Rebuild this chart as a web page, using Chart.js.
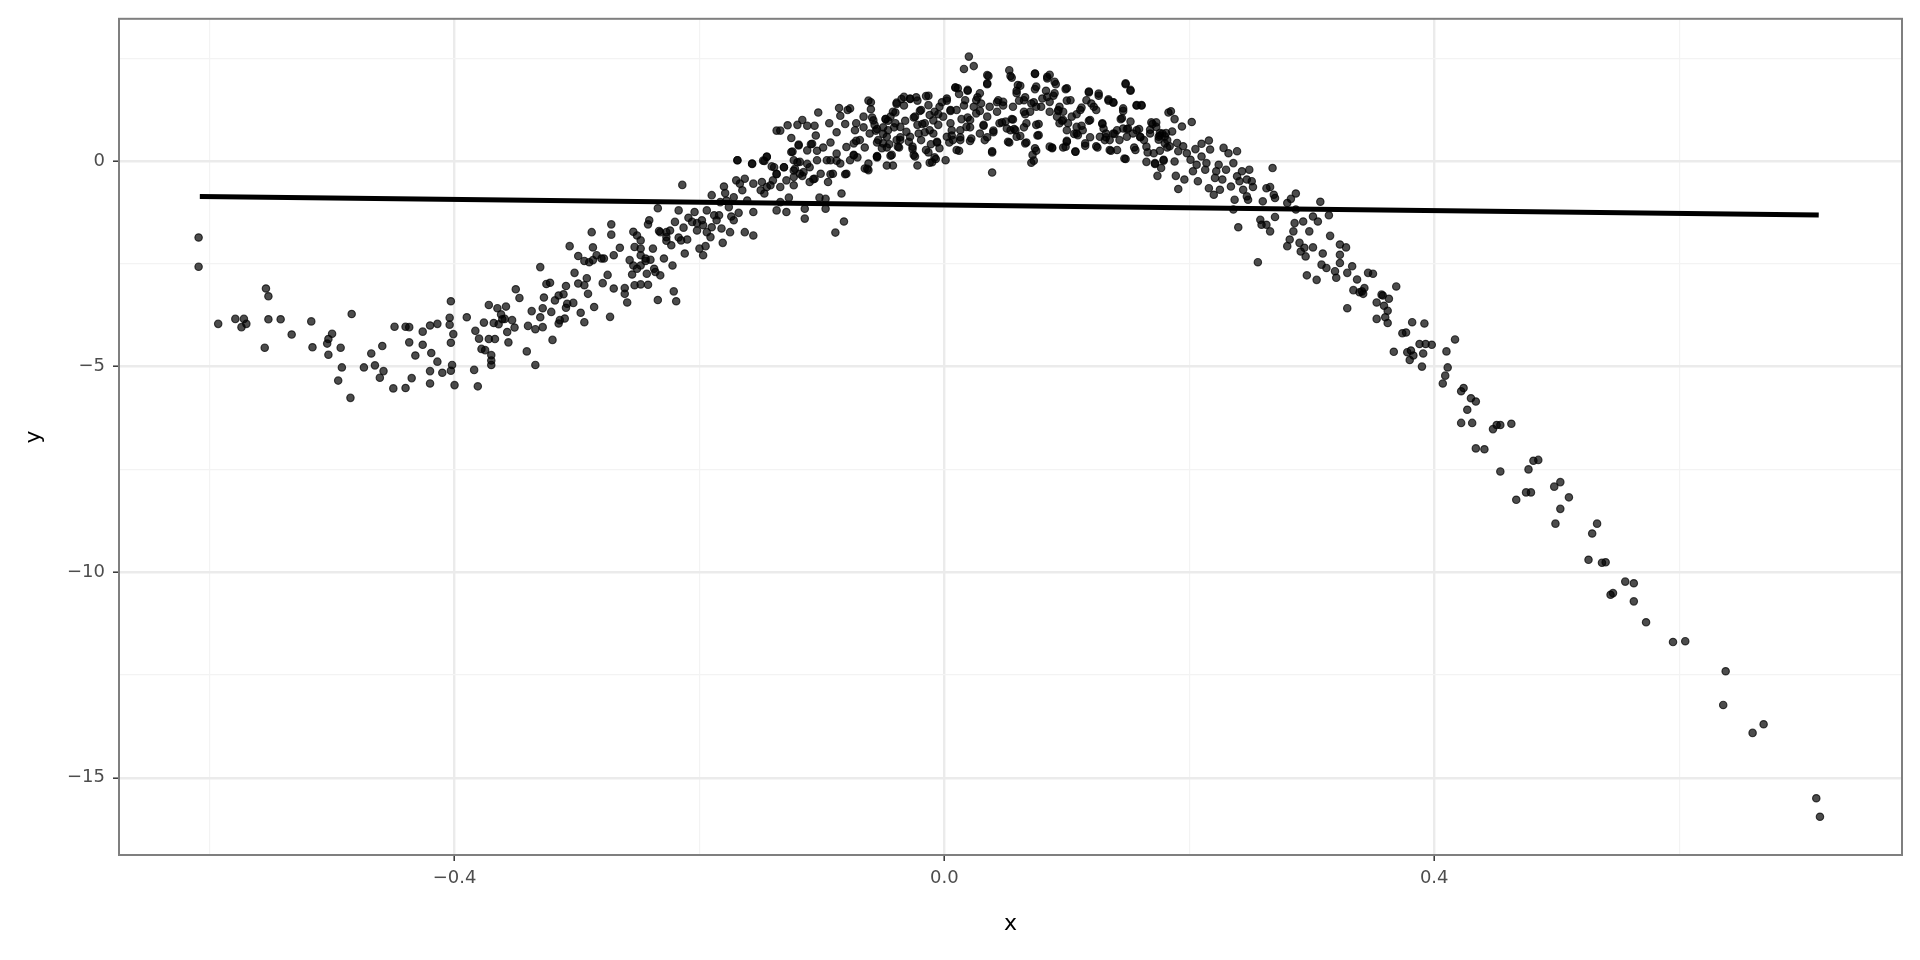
<!DOCTYPE html>
<html>
<head>
<meta charset="utf-8">
<title>scatter with linear fit</title>
<script src="https://cdn.jsdelivr.net/npm/chart.js@4.4.0/dist/chart.umd.min.js"></script>
<style>
  html, body { margin: 0; padding: 0; background: #fff; }
  #wrap { width: 1920px; height: 960px; }
</style>
</head>
<body>
<div id="wrap"><canvas id="plot" width="1920" height="960"></canvas></div>
<script>
// points, [x, y], grouped by stretch of the curve
const leftTail = [
  [-0.609,-1.86],[-0.609,-2.57],[-0.593,-3.96],[-0.579,-3.84],[-0.572,-3.84],[-0.574,-4.04],[-0.570,-3.96],
  [-0.554,-3.10],[-0.552,-3.29],[-0.552,-3.85],[-0.555,-4.54],[-0.542,-3.85],[-0.533,-4.22],[-0.517,-3.90],
  [-0.516,-4.53],[-0.504,-4.44],[-0.503,-4.33],[-0.500,-4.20],[-0.503,-4.71],[-0.493,-4.54],[-0.492,-5.02],
  [-0.495,-5.34],[-0.485,-5.76],[-0.484,-3.72],[-0.474,-5.02],[-0.468,-4.68],[-0.465,-4.97],[-0.459,-4.50],
  [-0.458,-5.11],[-0.461,-5.27],[-0.450,-5.53],[-0.449,-4.03],[-0.440,-4.03],[-0.437,-4.04],[-0.440,-5.52],
  [-0.437,-4.41],[-0.435,-5.28],[-0.432,-4.73],[-0.426,-4.15],[-0.426,-4.47],[-0.420,-4.00],[-0.414,-3.96],
  [-0.419,-4.67],[-0.414,-4.88],[-0.420,-5.11],[-0.420,-5.41],[-0.410,-5.15],[-0.403,-3.41],[-0.404,-3.81],
  [-0.404,-3.98],[-0.401,-4.21],[-0.403,-4.42],[-0.402,-4.96],[-0.403,-5.10],[-0.400,-5.45],[-0.390,-3.80],
  [-0.383,-4.13],[-0.384,-5.08],[-0.381,-5.48],[-0.380,-4.32],[-0.376,-3.93],[-0.372,-3.50],[-0.378,-4.57],
  [-0.375,-4.60],[-0.372,-4.33],[-0.368,-3.94],[-0.367,-4.33],[-0.370,-4.72],[-0.370,-4.85],[-0.370,-4.96],
  [-0.365,-3.58],[-0.358,-3.54],[-0.362,-3.73],[-0.361,-3.85],[-0.364,-3.97],[-0.359,-3.84],[-0.357,-4.16],
  [-0.356,-4.41],[-0.353,-3.87],[-0.351,-4.05],[-0.350,-3.12],[-0.347,-3.33],[-0.341,-4.63],[-0.340,-4.01],
  [-0.337,-3.65],[-0.334,-4.96],[-0.334,-4.09],[-0.330,-2.58],[-0.330,-3.80],[-0.328,-4.04],[-0.328,-3.58],
  [-0.327,-3.32],[-0.325,-2.99],[-0.322,-2.96],[-0.321,-3.67],[-0.320,-4.35],[-0.315,-3.95],[-0.314,-3.87],
  [-0.318,-3.39],[-0.315,-3.27],[-0.311,-3.24],[-0.309,-3.57],[-0.310,-3.83]
];
const rising = [
  [-0.306,-2.07],[-0.299,-2.31],[-0.288,-1.73],[-0.287,-2.10],[-0.302,-2.72],[-0.309,-3.04],[-0.308,-3.47],
  [-0.303,-3.45],[-0.297,-3.69],[-0.294,-3.92],[-0.286,-3.55],[-0.291,-3.23],[-0.292,-2.85],[-0.299,-2.98],
  [-0.294,-3.02],[-0.279,-2.97],[-0.275,-2.77],[-0.273,-3.79],[-0.270,-3.10],[-0.261,-3.09],[-0.261,-3.23],
  [-0.259,-3.44],[-0.253,-3.02],[-0.248,-3.00],[-0.242,-3.01],[-0.255,-2.76],[-0.257,-2.41],[-0.248,-2.54],
  [-0.244,-2.43],[-0.240,-2.40],[-0.237,-2.62],[-0.232,-2.78],[-0.234,-3.38],[-0.221,-3.17],[-0.219,-3.41],
  [-0.222,-2.54],[-0.229,-2.37],[-0.238,-2.13],[-0.248,-2.13],[-0.253,-2.09],[-0.254,-1.72],[-0.248,-1.93],
  [-0.251,-1.81],[-0.272,-1.54],[-0.272,-1.79],[-0.265,-2.11],[-0.270,-2.29],[-0.278,-2.37],[-0.284,-2.29],
  [-0.290,-2.46],[-0.294,-2.43],[-0.241,-1.44],[-0.242,-1.54],[-0.234,-1.15],[-0.233,-1.70],[-0.227,-1.73],
  [-0.224,-1.69],[-0.227,-1.94],[-0.223,-2.05],[-0.220,-1.48],[-0.217,-1.86],[-0.217,-1.20],[-0.215,-1.93],
  [-0.213,-1.62],[-0.212,-2.25],[-0.210,-1.91],[-0.209,-1.38],[-0.204,-1.24],[-0.202,-1.51],[-0.198,-1.44],
  [-0.200,-2.13],[-0.197,-2.29],[-0.195,-2.07],[-0.194,-1.20],[-0.191,-1.85],[-0.190,-0.83],[-0.188,-1.32],
  [-0.184,-1.32],[-0.182,-1.64],[-0.181,-1.99],[-0.180,-0.62],[-0.179,-0.78],[-0.175,-1.73],[-0.174,-1.35],
  [-0.172,-1.44],[-0.168,-1.26],[-0.163,-1.73],[-0.156,-1.81],[-0.156,-1.24],[-0.161,-0.96],[-0.165,-0.71],
  [-0.169,0.02],[-0.157,-0.06],[-0.163,-0.43],[-0.170,-0.47],[-0.149,-0.51],[-0.147,-0.79],[-0.142,-0.59],
  [-0.137,-1.20],[-0.129,-1.24],[-0.134,-1.00],[-0.127,-0.89],[-0.123,-0.59],[-0.114,-1.40],[-0.114,-1.16],
  [-0.097,-1.16],[-0.097,-0.92],[-0.102,-0.89],[-0.089,-1.74],[-0.082,-1.47],[-0.084,-0.79],[-0.214,-0.58],
  [-0.145,0.10],[-0.147,0.00],[-0.141,-0.13],[-0.137,-0.31],[-0.131,-0.15],[-0.123,-0.39],[-0.118,-0.31],
  [-0.110,-0.51],[-0.106,-0.43],[-0.095,-0.51],[-0.091,-0.31],[-0.080,-0.31],[-0.085,-0.06],[-0.074,0.14],
  [-0.118,-0.02],[-0.123,0.02],[-0.112,0.26],[-0.104,0.02],[-0.096,0.02],[-0.125,0.22],[-0.119,0.38],
  [-0.108,0.42],[-0.206,-1.48],[-0.202,-1.69],[-0.197,-1.56],[-0.194,-1.73],[-0.190,-1.61],[-0.186,-1.44],
  [-0.183,-1.00],[-0.178,-0.96],[-0.176,-1.12],[-0.172,-0.88],[-0.167,-0.55],[-0.156,-0.55],[-0.150,-0.71],
  [-0.145,-0.63],[-0.140,-0.47],[-0.134,-0.63],[-0.129,-0.47],[-0.123,-0.23],[-0.115,-0.27],[-0.110,-0.15],
  [-0.101,-0.31],[-0.093,0.02],[-0.088,0.18],[-0.080,0.34],[-0.077,0.02],[-0.232,-1.73],[-0.227,-1.85],
  [-0.248,-2.29],[-0.244,-2.37],[-0.251,-2.62],[-0.254,-2.54],[-0.243,-2.74],[-0.236,-2.70],[-0.280,-2.37],
  [-0.287,-2.41]
];
const shoulder = [
  [-0.169,0.02],[-0.157,-0.07],[-0.148,0.01],[-0.145,0.11],[-0.137,0.74],[-0.134,0.74],[-0.128,0.87],
  [-0.125,0.56],[-0.124,0.23],[-0.120,0.88],[-0.119,0.40],[-0.116,1.00],[-0.112,0.86],[-0.106,0.86],
  [-0.103,1.18],[-0.105,0.62],[-0.109,0.41],[-0.094,0.92],[-0.086,1.29],[-0.085,1.10],[-0.079,1.24],
  [-0.081,0.90],[-0.088,0.70],[-0.093,0.45],[-0.104,0.25],[-0.112,-0.07],[-0.120,-0.03],[-0.131,-0.15],
  [-0.139,-0.15],[-0.137,-0.32],[-0.088,0.01],[-0.081,-0.32],[-0.093,-0.32],[-0.107,-0.44],[-0.116,-0.36],
  [-0.055,0.78],[-0.048,1.02],[-0.047,0.33],[-0.055,0.09],[-0.063,-0.19],[-0.071,0.09],[-0.072,0.49],
  [-0.047,-0.11],[-0.065,0.33],[-0.099,0.33],[-0.122,-0.19]
];
const peak = [
  [-0.077,1.28],[-0.062,1.47],[-0.060,1.26],[-0.066,1.08],[-0.073,0.75],[-0.074,0.43],[-0.074,0.15],
  [-0.065,-0.18],[-0.062,-0.22],[-0.062,-0.06],[-0.055,0.12],[-0.042,-0.11],[-0.043,0.15],[-0.058,0.99],
  [-0.050,0.82],[-0.048,1.02],[-0.042,1.20],[-0.039,1.42],[-0.033,1.56],[-0.028,1.52],[-0.023,1.55],
  [-0.019,1.24],[-0.015,1.58],[-0.013,1.36],[-0.009,0.99],[-0.004,1.32],[0.002,1.52],[0.009,1.79],
  [0.011,1.77],[0.019,1.73],[0.016,2.24],[0.020,2.54],[0.024,2.31],[0.001,0.02],[-0.008,0.09],
  [-0.012,-0.04],[-0.022,-0.11],[-0.025,0.15],[-0.026,0.35],[-0.015,0.27],[-0.006,0.47],[0.002,0.59],
  [0.010,0.27],[0.013,0.51],[0.022,0.55],[0.018,0.83],[0.026,1.16],[0.026,1.48],[0.029,1.65],
  [0.035,2.09],[0.035,1.89],[0.039,0.24],[0.039,-0.28],[0.033,0.51],[0.032,0.88],[0.040,0.74],
  [0.037,1.32],[0.044,1.48],[0.048,1.44],[0.050,0.96],[0.053,2.21],[0.055,2.03],[0.052,0.47],
  [0.056,1.01],[0.058,0.75],[0.060,1.85],[0.059,1.65],[0.062,0.61],[0.065,1.20],[0.067,0.45],
  [0.074,2.13],[0.071,-0.04],[0.072,0.15],[0.074,0.31],[0.075,0.88],[0.077,0.63],[0.071,1.40],
  [0.075,1.81],[0.080,1.52],[0.084,2.01],[0.086,2.10],[0.090,1.93],[0.086,0.35],[0.088,0.31],
  [0.092,1.08],[0.094,1.32],[0.097,1.00],[0.099,0.35],[0.100,1.77],[0.103,1.48],[0.100,0.47],
  [0.107,0.23],[0.109,0.63],[0.111,1.24],[0.115,0.43],[0.118,1.69],[0.119,1.00],[0.120,1.40],
  [0.124,0.36],[0.126,1.64],[0.129,0.92],[0.132,0.67],[0.134,1.50],[0.138,1.42],[0.135,0.27],
  [0.141,0.27],[0.145,1.04],[0.146,1.28],[0.148,1.89],[0.152,1.73],[0.147,0.06],[0.150,0.79],
  [0.156,0.27],[0.157,1.36],[0.161,1.36],[0.160,0.59],[0.165,-0.02],[0.175,0.59],[0.182,0.51],
  [-0.047,0.59],[-0.036,0.83],[-0.028,0.59],[-0.022,0.88],[-0.012,0.75],[0.005,0.92],[0.010,1.24],
  [0.013,0.75],[0.029,0.67],[0.051,0.79],[0.059,0.59],[0.086,1.20],[0.094,0.92],[0.100,0.75],
  [0.108,0.67],[0.127,0.59],[0.135,0.51],[0.141,0.75],[0.149,0.59],[0.157,0.75],[0.168,0.67],
  [-0.069,0.51],[-0.050,0.43],[-0.036,0.51],[-0.009,0.67],[-0.072,0.92],[-0.066,0.82],[-0.061,0.67],
  [-0.057,0.88],[-0.054,0.51],[-0.051,0.31],[-0.046,0.75],[-0.044,1.08],[-0.040,0.92],[-0.039,0.51],
  [-0.038,0.35],[-0.032,0.98],[-0.031,0.71],[-0.029,0.47],[-0.024,1.08],[-0.021,0.67],[-0.019,0.51],
  [-0.016,0.92],[-0.012,1.12],[-0.008,1.20],[-0.005,0.88],[-0.004,0.31],[-0.001,1.08],[0.005,1.24],
  [0.006,0.75],[0.007,0.51],[0.014,1.02],[0.017,1.48],[0.021,1.00],[0.024,1.32],[0.030,1.40],
  [0.035,1.08],[0.043,1.20],[0.045,0.92],[0.054,0.75],[0.056,1.32],[0.065,1.48],[0.067,0.92],
  [0.070,1.20],[0.075,1.32],[0.079,1.32],[0.084,1.56],[0.086,1.44],[0.090,1.65],[0.093,1.24],
  [0.097,1.20],[0.101,0.92],[0.104,1.08],[0.108,0.83],[0.113,0.75],[0.116,1.48],[0.122,1.32],
  [0.124,1.24],[0.130,0.79],[0.131,0.51],[0.138,0.67],[0.143,0.51],[0.146,0.79],[0.152,0.96],
  [0.154,0.67],[0.163,0.51],[0.165,0.35],[0.173,0.83],[0.178,0.67],[0.180,0.43]
];
// extra points from closer reads of the crowded top of the hump
const peakCore = [
  [-0.060,1.43],[-0.059,1.06],[-0.056,0.74],[-0.055,0.45],[-0.055,0.11],[-0.050,0.66],[-0.046,0.98],
  [-0.045,0.41],[-0.044,0.13],[-0.041,0.82],[-0.040,1.18],[-0.039,1.39],[-0.035,1.51],[-0.033,1.35],
  [-0.037,0.33],[-0.036,0.58],[-0.028,1.51],[-0.025,1.06],[-0.026,0.29],[-0.024,0.11],[-0.022,1.47],
  [-0.020,1.22],[-0.018,0.90],[-0.016,0.70],[-0.013,1.59],[-0.011,0.41],[-0.013,0.21],[-0.010,-0.03],
  [-0.007,0.05],[-0.006,0.45],[-0.005,1.14],[-0.002,1.43],[0.002,1.47],[0.005,1.22],[0.006,0.62],
  [0.004,0.45],[0.012,0.25],[0.013,0.58],[0.009,1.79],[0.012,1.63],[0.019,1.71],[0.016,1.35],
  [0.019,1.06],[0.021,0.82],[0.021,0.49],[0.027,1.55],[0.029,1.22],[0.032,0.86],[0.035,0.58],
  [0.036,2.07],[0.035,1.87],[0.039,0.21],[0.040,0.70],[0.043,1.43],[0.048,1.35],[0.047,0.94],
  [0.053,0.45],[0.055,1.02],[0.054,2.07],[0.057,0.78],[0.059,1.71],[0.061,1.47],
  [0.074,2.12],[0.084,2.05],[0.062,1.83],[0.074,1.75],[0.066,1.55],[0.073,1.43],[0.083,1.71],
  [0.091,1.87],[0.089,1.59],[0.099,1.75],[0.100,1.47],[0.093,1.22],[0.096,0.98],[0.066,1.14],
  [0.065,0.82],[0.077,0.90],[0.076,0.62],[0.066,0.43],[0.075,0.25],[0.073,0.01],[0.088,0.33],
  [0.097,0.33],[0.107,0.23],[0.100,0.49],[0.106,0.66],[0.108,1.14],[0.112,1.30],[0.118,1.67],
  [0.126,1.59],[0.112,0.86],[0.118,0.98],[0.115,0.37],[0.119,0.58],[0.125,0.33],[0.129,0.90],
  [0.132,0.58],[0.134,1.47],[0.138,1.43],[0.139,0.66],[0.136,0.25],[0.144,1.02],[0.146,1.22],
  [0.148,1.87],[0.152,1.71],[0.149,0.78],[0.148,0.05],[0.155,0.33],[0.157,1.35],[0.161,1.35],
  [0.159,0.78],[0.160,0.58],[0.166,0.21],[0.170,0.90],[0.172,-0.07],[0.176,0.62],[0.179,0.01],
  [0.183,1.18],[0.182,0.33],[0.176,0.25]
];
const falling = [
  [0.169,0.94],[0.173,0.94],[0.185,1.21],[0.188,1.02],[0.194,0.84],[0.202,0.95],[0.186,0.72],
  [0.176,0.68],[0.180,0.60],[0.171,0.19],[0.172,-0.05],[0.179,0.03],[0.174,-0.36],[0.177,-0.17],
  [0.190,0.44],[0.191,0.24],[0.188,-0.01],[0.189,-0.36],[0.191,-0.68],[0.196,-0.45],[0.198,0.19],
  [0.205,0.29],[0.210,0.42],[0.216,0.50],[0.203,-0.25],[0.207,-0.49],[0.210,0.11],[0.214,-0.05],
  [0.217,0.28],[0.216,-0.66],[0.220,-0.82],[0.221,-0.41],[0.224,-0.09],[0.225,-0.70],[0.227,-0.45],
  [0.228,0.32],[0.232,0.19],[0.236,-0.05],[0.239,0.24],[0.234,-0.62],[0.237,-0.94],[0.236,-1.18],
  [0.241,-0.49],[0.243,-0.25],[0.247,-0.86],[0.249,-0.21],[0.251,-0.49],[0.252,-0.63],[0.248,-0.94],
  [0.240,-1.61],[0.260,-0.98],[0.263,-0.66],[0.266,-0.63],[0.268,-0.17],[0.269,-0.82],[0.270,-0.90],
  [0.270,-1.36],[0.258,-1.43],[0.259,-1.55],[0.263,-1.55],[0.266,-1.71],[0.256,-2.46],[0.280,-1.02],
  [0.283,-0.92],[0.287,-0.79],[0.287,-1.18],[0.286,-1.51],[0.285,-1.71],[0.282,-1.91],[0.280,-2.07],
  [0.290,-1.99],[0.291,-2.20],[0.295,-2.32],[0.294,-2.11],[0.293,-1.47],[0.298,-1.71],[0.301,-1.35],
  [0.305,-1.47],[0.307,-0.99],[0.314,-1.32],[0.301,-2.10],[0.309,-2.25],[0.315,-1.82],[0.308,-2.52],
  [0.312,-2.60],[0.296,-2.78],[0.304,-2.89],[0.319,-2.68],[0.320,-2.84],[0.323,-2.03],[0.323,-2.28],
  [0.323,-2.48],[0.328,-2.10],[0.329,-2.72],[0.333,-2.56],[0.337,-2.88],[0.334,-3.14],[0.341,-3.17],
  [0.343,-3.09],[0.346,-2.72],[0.350,-2.74],[0.357,-3.25],[0.369,-3.05],[0.168,0.76],[0.175,0.52],
  [0.181,0.68],[0.184,0.36],[0.195,0.36],[0.201,0.03],[0.206,-0.09],[0.213,-0.21],[0.222,-0.25],
  [0.230,-0.21],[0.239,-0.37],[0.244,-0.70],[0.247,-0.45]
];
const steepDrop = [
  [0.339,-3.19],[0.342,-3.23],[0.329,-3.58],[0.353,-3.44],[0.358,-3.27],[0.359,-3.52],[0.363,-3.35],
  [0.362,-3.64],[0.360,-3.80],[0.362,-3.94],[0.353,-3.84],[0.374,-4.19],[0.377,-4.17],[0.382,-3.92],
  [0.392,-3.95],[0.388,-4.45],[0.393,-4.45],[0.398,-4.47],[0.367,-4.64],[0.378,-4.65],[0.381,-4.61],
  [0.383,-4.73],[0.380,-4.84],[0.391,-4.68],[0.390,-5.00],[0.417,-4.34],[0.410,-4.63],[0.411,-5.02],
  [0.409,-5.22],[0.407,-5.41],[0.424,-5.52],[0.422,-5.60],[0.430,-5.77],[0.434,-5.85],[0.427,-6.05],
  [0.422,-6.37],[0.431,-6.37],[0.448,-6.52],[0.451,-6.42],[0.454,-6.42],[0.463,-6.39]
];
const rightTail = [
  [0.434,-6.99],[0.441,-7.01],[0.454,-7.55],[0.477,-7.50],[0.481,-7.29],[0.485,-7.27],[0.467,-8.24],
  [0.475,-8.06],[0.479,-8.06],[0.498,-7.92],[0.503,-7.81],[0.510,-8.18],[0.503,-8.46],[0.499,-8.82],
  [0.533,-8.82],[0.529,-9.06],[0.526,-9.70],[0.537,-9.77],[0.540,-9.76],[0.556,-10.23],[0.563,-10.27],
  [0.544,-10.55],[0.546,-10.51],[0.563,-10.71],[0.573,-11.22],[0.595,-11.70],[0.605,-11.68],[0.638,-12.41],
  [0.636,-13.23],[0.669,-13.70],[0.660,-13.91],[0.712,-15.50],[0.715,-15.95]
];

// straight fit line, ends
const fitX = [-0.608, 0.714];
const fitY = [-0.86, -1.31];

// labelled ticks (minor grid lines sit half way between)
const xTicks = [-0.4, 0.0, 0.4];
const yTicks = [0, -5, -10, -15];

const FONT = "'DejaVu Sans', sans-serif";

function isMajor(v, list) {
  return list.some(t => Math.abs(t - v) < 1e-6);
}
function fmt(v, digits) {
  // matplotlib style minus sign
  return Number(v).toFixed(digits).replace('-', '\u2212');
}

const points = [...leftTail, ...rising, ...shoulder, ...peak, ...peakCore, ...falling, ...steepDrop, ...rightTail]
  .map(([x, y]) => ({ x: x, y: y }));
const fitLine = fitX.map((x, i) => ({ x: x, y: fitY[i] }));

const panelBorder = {
  id: 'panelBorder',
  afterDraw(chart) {
    const { ctx, chartArea } = chart;
    ctx.save();
    ctx.strokeStyle = '#7f7f7f';
    ctx.lineWidth = 2;
    ctx.strokeRect(chartArea.left, chartArea.top, chartArea.right - chartArea.left, chartArea.bottom - chartArea.top);
    ctx.restore();
  }
};

function gridFor(list) {
  return {
    color: c => isMajor(c.tick.value, list) ? '#ebebeb' : '#f3f3f3',
    lineWidth: c => isMajor(c.tick.value, list) ? 2.4 : 1.2,
    tickLength: 6,
    tickWidth: 1.5,
    tickColor: c => isMajor(c.tick.value, list) ? '#333333' : 'rgba(0,0,0,0)'
  };
}

new Chart(document.getElementById('plot'), {
  type: 'scatter',
  data: {
    datasets: [
      {
        label: 'points',
        data: points,
        pointRadius: 3.7,
        pointBorderWidth: 1.2,
        backgroundColor: 'rgba(0,0,0,0.7)',
        borderColor: 'rgba(0,0,0,0.7)',
        order: 1
      },
      {
        label: 'fit',
        data: fitLine,
        showLine: true,
        borderColor: '#000000',
        borderWidth: 5,
        pointRadius: 0,
        order: 0
      }
    ]
  },
  options: {
    responsive: false,
    animation: false,
    devicePixelRatio: 1,
    layout: { padding: { left: 0, top: 18, right: 18, bottom: 0 } },
    plugins: {
      legend: { display: false },
      tooltip: { enabled: false }
    },
    scales: {
      x: {
        type: 'linear',
        min: -0.674,
        max: 0.782,
        afterFit(s) { s.height = 105; },
        border: { display: false },
        grid: gridFor(xTicks),
        ticks: {
          stepSize: 0.2,
          includeBounds: false,
          autoSkip: false,
          maxRotation: 0,
          padding: 7,
          color: '#4d4d4d',
          font: { family: FONT, size: 18 },
          callback: v => isMajor(v, xTicks) ? fmt(v, 1) : ''
        },
        title: {
          display: true,
          text: 'x',
          color: '#000000',
          font: { family: FONT, size: 22 },
          padding: { top: 0, bottom: 23 }
        }
      },
      y: {
        type: 'linear',
        min: -16.88,
        max: 3.46,
        afterFit(s) { s.width = 119; },
        border: { display: false },
        grid: gridFor(yTicks),
        ticks: {
          stepSize: 2.5,
          includeBounds: false,
          autoSkip: false,
          padding: 8,
          color: '#4d4d4d',
          font: { family: FONT, size: 18 },
          callback: v => isMajor(v, yTicks) ? fmt(v, 0) : ''
        },
        title: {
          display: true,
          text: 'y',
          color: '#000000',
          font: { family: FONT, size: 22 },
          padding: { top: 21, bottom: 0 }
        }
      }
    }
  },
  plugins: [panelBorder]
});
</script>
</body>
</html>
